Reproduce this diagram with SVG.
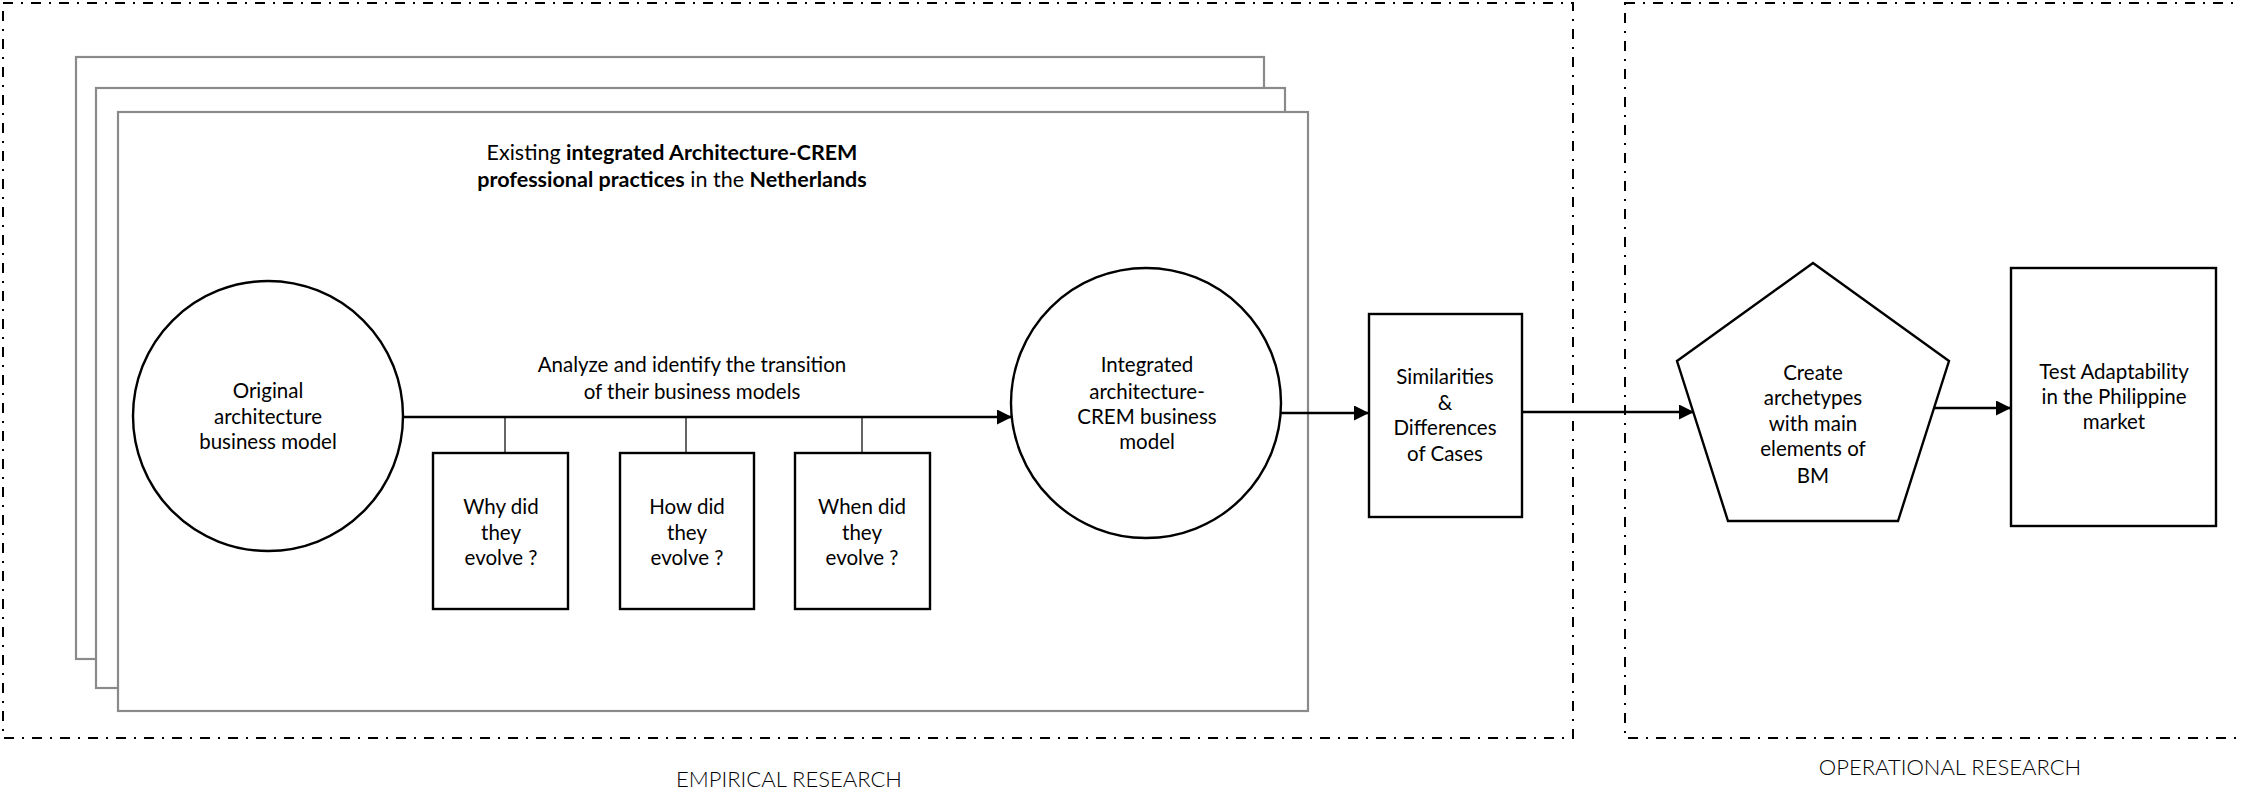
<svg xmlns="http://www.w3.org/2000/svg" width="2241" height="793" viewBox="0 0 2241 793">
  <style>
    .frame { fill: none; stroke: #000; stroke-width: 2; stroke-dasharray: 10 8 2 8; }
    .stack { fill: #fff; stroke: #8a8a8a; stroke-width: 2.2; }
    .shape { fill: #fff; stroke: #000; stroke-width: 2.4; }
    .conn { fill: none; stroke: #000; stroke-width: 2.6; }
    .stub { fill: none; stroke: #000; stroke-width: 1.2; }
    text { font-family: Lato, "Noto Sans", sans-serif; font-size: 20.5px; fill: #000; text-anchor: middle; font-weight: 400; }
    .title { font-size: 21.5px; font-weight: 400; }
    .b { font-weight: 700; }
    .section { font-size: 22px; font-weight: 300; }
  </style>
  <defs>
    <marker id="arrow" markerUnits="userSpaceOnUse" markerWidth="16" markerHeight="16" refX="15" refY="7.5" orient="auto">
      <path d="M0,0 L15,7.5 L0,15 z" fill="#000"/>
    </marker>
  </defs>

  <!-- research phase frames -->
  <g id="empirical-frame">
    <rect class="frame" x="3" y="3" width="1570" height="735"/>
    <text class="section" x="789" y="787">EMPIRICAL RESEARCH</text>
  </g>
  <g id="operational-frame">
    <rect class="frame" x="1625" y="3" width="1613" height="735"/>
    <text class="section" x="1950" y="775">OPERATIONAL RESEARCH</text>
  </g>

  <!-- stacked sheets: the set of practices studied -->
  <g id="practices">
    <rect class="stack" x="76" y="57" width="1188" height="602"/>
    <rect class="stack" x="96" y="88" width="1189" height="600"/>
    <rect class="stack" x="118" y="112" width="1190" height="599"/>
    <text class="title" x="672" y="160">Existing <tspan class="b">integrated Architecture-CREM</tspan></text>
    <text class="title" x="672" y="187"><tspan class="b">professional practices</tspan> in the <tspan class="b">Netherlands</tspan></text>
  </g>

  <!-- connectors -->
  <g id="connectors">
    <path class="conn" d="M403,417 L1012,417" marker-end="url(#arrow)"/>
    <path class="stub" d="M505,417 V453 M686,417 V453 M862,417 V453"/>
    <path class="conn" d="M1281,413 L1369,413" marker-end="url(#arrow)"/>
    <path class="conn" d="M1522,412 L1694,412" marker-end="url(#arrow)"/>
    <path class="conn" d="M1934,408 L2011,408" marker-end="url(#arrow)"/>
    <text x="692" y="372">Analyze and identify the transition</text>
    <text x="692" y="399">of their business models</text>
  </g>

  <g id="original-bm">
    <circle class="shape" cx="268" cy="416" r="135"/>
    <text x="268" y="398">Original</text>
    <text x="268" y="424">architecture</text>
    <text x="268" y="449">business model</text>
  </g>

  <g id="why">
    <rect class="shape" x="433" y="453" width="135" height="156"/>
    <text x="501" y="514">Why did</text>
    <text x="501" y="540">they</text>
    <text x="501" y="565">evolve ?</text>
  </g>

  <g id="how">
    <rect class="shape" x="620" y="453" width="134" height="156"/>
    <text x="687" y="514">How did</text>
    <text x="687" y="540">they</text>
    <text x="687" y="565">evolve ?</text>
  </g>

  <g id="when">
    <rect class="shape" x="795" y="453" width="135" height="156"/>
    <text x="862" y="514">When did</text>
    <text x="862" y="540">they</text>
    <text x="862" y="565">evolve ?</text>
  </g>

  <g id="integrated-bm">
    <circle class="shape" cx="1146" cy="403" r="135"/>
    <text x="1147" y="372">Integrated</text>
    <text x="1147" y="399">architecture-</text>
    <text x="1147" y="424">CREM business</text>
    <text x="1147" y="449">model</text>
  </g>

  <g id="similarities">
    <rect class="shape" x="1369" y="314" width="153" height="203"/>
    <text x="1445" y="384">Similarities</text>
    <text x="1445" y="410">&amp;</text>
    <text x="1445" y="435">Differences</text>
    <text x="1445" y="461">of Cases</text>
  </g>

  <g id="archetypes">
    <polygon class="shape" points="1813,263 1949,361 1898,521 1728,521 1677,361"/>
    <text x="1813" y="380">Create</text>
    <text x="1813" y="405">archetypes</text>
    <text x="1813" y="431">with main</text>
    <text x="1813" y="456">elements of</text>
    <text x="1813" y="483">BM</text>
  </g>

  <g id="adaptability">
    <rect class="shape" x="2011" y="268" width="205" height="258"/>
    <text x="2114" y="379">Test Adaptability</text>
    <text x="2114" y="404">in the Philippine</text>
    <text x="2114" y="429">market</text>
  </g>
</svg>
